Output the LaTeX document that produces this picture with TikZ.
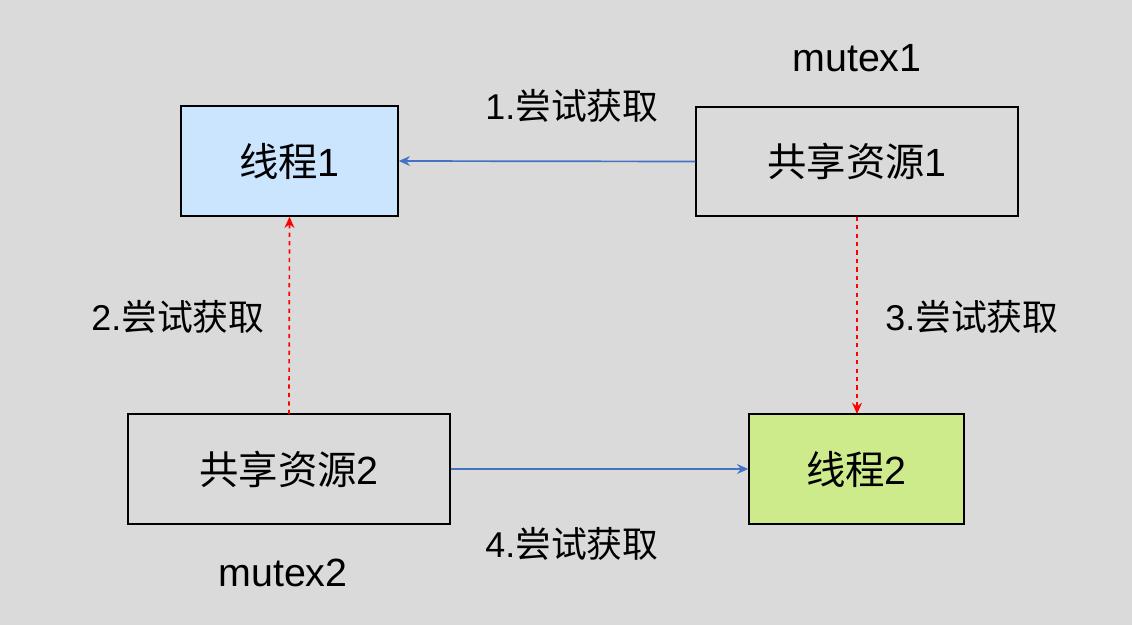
\documentclass[tikz,border=0pt]{standalone}
\usepackage{fontspec}
\setmainfont{Liberation Sans}
\newfontfamily\cjk{Noto Sans CJK SC}
\usetikzlibrary{arrows.meta}
\definecolor{bg}{HTML}{DADADA}
\definecolor{blueline}{HTML}{4472C4}
\definecolor{thrA}{HTML}{CCE5FF}
\definecolor{thrB}{HTML}{CDEB8B}
\newcommand{\try}[1]{#1.{\cjk 尝试获取}}

\begin{document}
\begin{tikzpicture}[x=0.025cm,y=-0.025cm,
    box/.style={draw=black,line width=1pt,inner sep=0pt,font=\fontsize{28}{32}\selectfont},
    lbl/.style={font=\fontsize{25.5}{30}\selectfont},
    get/.style={draw=blueline,line width=1.2pt,-{Stealth[length=8pt,width=7pt]}},
    wait/.style={draw=red,dashed,line width=1.2pt,-{Stealth[length=8pt,width=7pt]}}]
     \fill[bg] (0,0) rectangle (1132,625);
     \useasboundingbox (0,0) rectangle (1132,625);
     \node[box,fill=thrA,minimum width=217*0.025cm,minimum height=110*0.025cm] (t1) at (289.5,161) {{\cjk 线程}1};
     \node[box,fill=bg,minimum width=322*0.025cm,minimum height=109*0.025cm] (r1) at (857,161.5) {{\cjk 共享资源}1};
     \node[box,fill=bg,minimum width=322*0.025cm,minimum height=110*0.025cm] (r2) at (289,469) {{\cjk 共享资源}2};
     \node[box,fill=thrB,minimum width=215*0.025cm,minimum height=110*0.025cm] (t2) at (856.5,469) {{\cjk 线程}2};
     \coordinate (r2top) at (289,414);
     \coordinate (t2top) at (857,414);
     \draw[get] (r1.west) -- (t1.east);
     \draw[get] (r2.east) -- (t2.west);
     \draw[wait] (r2top) -- (t1.south);
     \draw[wait] (r1.south) -- (t2top);
     \node[font=\fontsize{28}{32}\selectfont] (m1) at (857,58) {mutex1};
     \node[font=\fontsize{28}{32}\selectfont] (m2) at (283,573) {mutex2};
     \node[lbl] (l1) at (572,106) {\try{1}};
     \node[lbl] (l2) at (178,317) {\try{2}};
     \node[lbl] (l3) at (972,317) {\try{3}};
     \node[lbl] (l4) at (572,544) {\try{4}};
\end{tikzpicture}
\end{document}
